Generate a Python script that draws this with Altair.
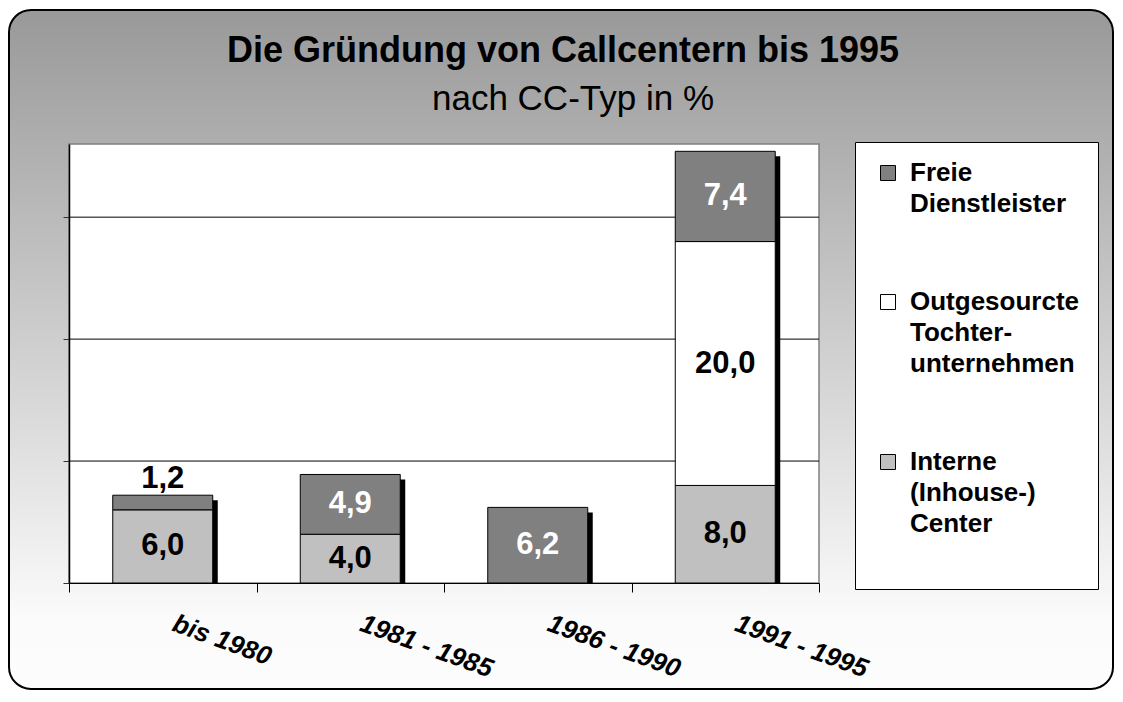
import altair as alt
import pandas as pd

# ---------------- data ----------------
periods = ["bis 1980", "1981 - 1985", "1986 - 1990", "1991 - 1995"]
interne = [6.0, 4.0, 0.0, 8.0]
outgesourcte = [0.0, 0.0, 0.0, 20.0]
freie = [1.2, 4.9, 6.2, 7.4]

series_names = ["Freie|Dienstleister", "Outgesourcte|Tochter-|unternehmen", "Interne|(Inhouse-)|Center"]
series_colors = ["#808080", "#ffffff", "#c0c0c0"]
grid_values = [10, 20, 30]
title_text = "Die Gründung von Callcentern bis 1995"
subtitle_text = "nach CC-Typ in %"

rows = []
for i, p in enumerate(periods):
    base = 0.0
    for name, vals in [(series_names[2], interne), (series_names[1], outgesourcte), (series_names[0], freie)]:
        v = vals[i]
        if v > 0:
            rows.append(dict(period=p, series=name, value=v, bottom=base, top=base + v,
                             mid=base + v / 2, label=f"{v:.1f}".replace(".", ","), small=bool(v < 2)))
        base += v
df = pd.DataFrame(rows)
tot = pd.DataFrame({"period": periods,
                    "total": [a + b + c for a, b, c in zip(interne, outgesourcte, freie)],
                    "zero": [0.0] * len(periods)})

FONT = "Liberation Sans"
W, H = 750, 439
BAR = alt.RelativeBandSize(0.5333)

x_axis = alt.Axis(title=None, domainColor="black", domainWidth=1, tickColor="black", tickSize=9,
                  tickWidth=1, tickBand="extent", labelAngle=20, labelAlign="left", labelBaseline="top",
                  labelFont=FONT, labelFontSize=26, labelFontWeight="bold", labelFontStyle="italic",
                  labelColor="black", labelPadding=18, labelOffset=15, labelOverlap=False,
                  labelLimit=400, grid=False, zindex=1)
y_axis = alt.Axis(title=None, labels=False, domainColor="black", domainWidth=1.5, tickColor="#333333",
                  tickSize=6, values=[0, 10, 20, 30], grid=False, zindex=1)

x_enc = alt.X("period:N", sort=periods, scale=alt.Scale(paddingInner=0, paddingOuter=0), axis=x_axis)
y_scale = alt.Scale(domain=[0, 36], nice=False)

gradient = alt.LinearGradient(
    gradient="linear",
    stops=[alt.GradientStop(color="#999999", offset=0),
           alt.GradientStop(color="#fbfbfb", offset=0.9),
           alt.GradientStop(color="#fdfdfd", offset=1)],
    x1=0, x2=0, y1=0, y2=1)

one = pd.DataFrame({"k": [0]})

bg = alt.Chart(one).mark_rect(fill=gradient, stroke="black", strokeWidth=2, cornerRadius=22).encode(
    x=alt.value(-60), x2=alt.value(1044), y=alt.value(-134), y2=alt.value(545))

plot_rect = alt.Chart(one).mark_rect(fill="white", stroke="#808080", strokeWidth=1.5).encode(
    x=alt.value(0), x2=alt.value(W), y=alt.value(0), y2=alt.value(H))

grid = alt.Chart(pd.DataFrame({"g": grid_values})).mark_rule(color="black", strokeWidth=1).encode(
    y=alt.Y("g:Q", scale=y_scale, axis=y_axis))

shadow = alt.Chart(tot).mark_bar(color="black", xOffset=5, yOffset=5, width=BAR).encode(
    x=x_enc, y=alt.Y("total:Q", scale=y_scale, axis=y_axis), y2="zero:Q")

legend = alt.Legend(title=" ", titleOrient="bottom", titleFontSize=20, titlePadding=14,
                    orient="none", legendX=786, legendY=-2, fillColor="white",
                    strokeColor="#000000", padding=18, labelExpr="split(datum.label, '|')",
                    labelFont=FONT, labelFontSize=26, labelFontWeight="bold", labelColor="black",
                    labelLimit=400, labelOffset=9, symbolOffset=2, symbolType="square", symbolSize=225,
                    symbolStrokeColor="black", symbolStrokeWidth=1, rowPadding=72, labelBaseline="middle")

bars = alt.Chart(df).mark_bar(stroke="black", strokeWidth=1, width=BAR).encode(
    x=x_enc,
    y=alt.Y("top:Q", scale=y_scale, axis=y_axis),
    y2="bottom:Q",
    color=alt.Color("series:N", scale=alt.Scale(domain=series_names, range=series_colors), legend=legend))

labels_in = alt.Chart(df).transform_filter("!datum.small").mark_text(
    font=FONT, fontSize=31, fontWeight="bold", baseline="middle").encode(
    x=x_enc, y=alt.Y("mid:Q", scale=y_scale, axis=y_axis), text="label:N",
    color=alt.condition("datum.series == 'Freie|Dienstleister'", alt.value("white"), alt.value("black")))

labels_small = alt.Chart(df).transform_filter("datum.small").mark_text(
    font=FONT, fontSize=31, fontWeight="bold", baseline="alphabetic", dy=-7, color="black").encode(
    x=x_enc, y=alt.Y("top:Q", scale=y_scale, axis=y_axis), text="label:N")

title_t = alt.Chart(pd.DataFrame({"t": [title_text]})).mark_text(
    font=FONT, fontSize=36, fontWeight="bold", align="center", baseline="alphabetic", color="black").encode(
    x=alt.value(494), y=alt.value(-82), text="t:N")

subtitle_t = alt.Chart(pd.DataFrame({"t": [subtitle_text]})).mark_text(
    font=FONT, fontSize=35, fontWeight="normal", align="center", baseline="alphabetic", color="black").encode(
    x=alt.value(504), y=alt.value(-34), text="t:N")

chart = alt.layer(bg, plot_rect, grid, shadow, bars, labels_in, labels_small, title_t, subtitle_t).properties(
    width=W, height=H,
    autosize=alt.AutoSizeParams(type="none"),
    padding={"left": 61, "top": 136, "right": 296, "bottom": 107},
    background="white",
).configure(style={"guide-label": {"lineHeight": 31}}).configure_view(stroke=None)

chart.save("out.html", embed_options={"renderer": "svg", "actions": False})
